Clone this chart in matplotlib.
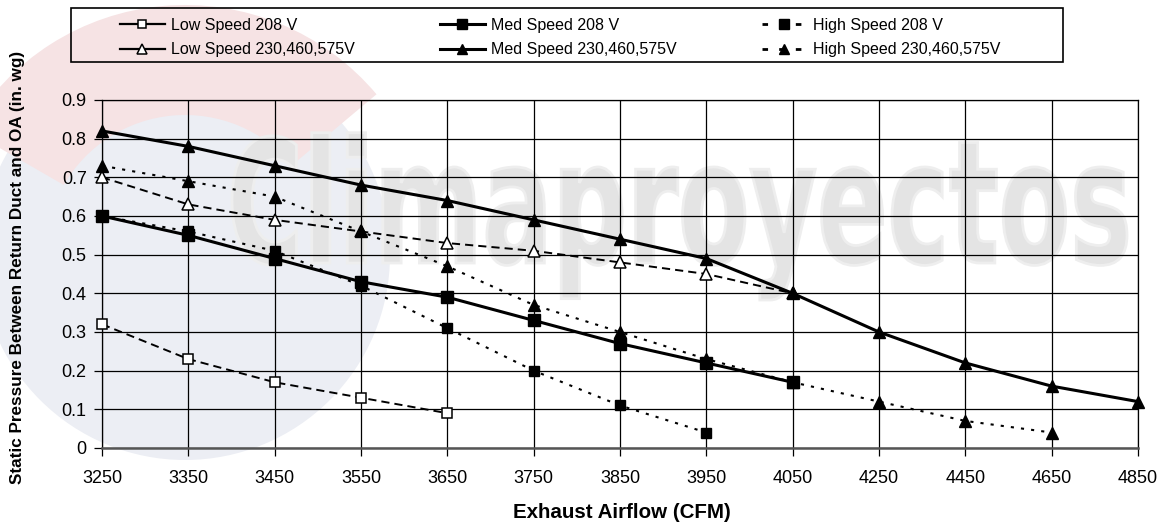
import matplotlib
matplotlib.use('Agg')
import matplotlib.pyplot as plt
from matplotlib.textpath import TextPath
from matplotlib.patches import PathPatch, Rectangle, Wedge, Circle
from matplotlib.font_manager import FontProperties
from matplotlib.lines import Line2D
import matplotlib.transforms as mtransforms

plt.rcParams['font.family'] = ['Liberation Sans', 'DejaVu Sans']

# data
airflow = ['3250', '3350', '3450', '3550', '3650', '3750', '3850',
           '3950', '4050', '4250', '4450', '4650', '4850']
low_208 = [0.32, 0.23, 0.17, 0.13, 0.09]
low_230 = [0.70, 0.63, 0.59, 0.56, 0.53, 0.51, 0.48, 0.45, 0.40]
med_208 = [0.60, 0.55, 0.49, 0.43, 0.39, 0.33, 0.27, 0.22, 0.17]
med_230 = [0.82, 0.78, 0.73, 0.68, 0.64, 0.59, 0.54, 0.49, 0.40,
           0.30, 0.22, 0.16, 0.12]
high_208 = [0.60, 0.56, 0.51, 0.42, 0.31, 0.20, 0.11, 0.04]
high_230 = [0.73, 0.69, 0.65, 0.56, 0.47, 0.37, 0.30, 0.23, 0.17,
            0.12, 0.07, 0.04]
yticks = [0, 0.1, 0.2, 0.3, 0.4, 0.5, 0.6, 0.7, 0.8, 0.9]

W, H = 1169, 529
fig = plt.figure(figsize=(W / 100, H / 100), dpi=100)

def fx(px):
    return px / W

def fy(py):
    return 1 - py / H

# faint logo watermark (pixel coords, drawn behind the axes)
px = mtransforms.IdentityTransform()
fig.patches.append(Circle((185, H - 255), 205, transform=px,
                          facecolor='#eceef4', edgecolor='none', zorder=-3))
fig.patches.append(Wedge((185, H - 255), 250, 40, 150, width=110,
                         transform=px, facecolor='#f6e3e4',
                         edgecolor='none', zorder=-2))

# "Climaproyectos" watermark text, condensed
fp = FontProperties(family='DejaVu Sans', weight='bold')
tp = TextPath((0, 0), 'Climaproyectos', size=100, prop=fp)
bb = tp.get_extents()
sx = 895 / bb.width
sy = 125 / 72.9
tr = (mtransforms.Affine2D().translate(-bb.x0, 0).scale(sx, sy)
      .translate(232, H - 263))
fig.patches.append(PathPatch(tp, transform=tr, facecolor='#e4e4e4',
                             edgecolor='#eeeeee', lw=2, zorder=-1))

ax = fig.add_axes([fx(102), fy(448), fx(1138) - fx(102), fy(100) - fy(448)])
ax.patch.set_visible(False)
ax.set_zorder(1)

x = list(range(len(airflow)))

low_style = dict(color='black', lw=1.4, dashes=(4.2, 2.6))
med_style = dict(color='black', lw=2.2, ls='-')
high_style = dict(color='black', lw=1.5, dashes=(1.5, 3.4))
open_sq = dict(marker='s', ms=7, mfc='white', mec='black', mew=1.1)
open_tri = dict(marker='^', ms=8, mfc='white', mec='black', mew=1.1)

ax.plot(x[:len(low_208)], low_208, **low_style, **open_sq,
        clip_on=False, zorder=4)
ax.plot(x[:len(low_230)], low_230, **low_style, **open_tri,
        clip_on=False, zorder=4)
ax.plot(x[:len(med_208)], med_208, **med_style, marker='s', ms=8.5,
        mfc='black', mec='black', clip_on=False, zorder=4)
ax.plot(x[:len(med_230)], med_230, **med_style, marker='^', ms=8.5,
        mfc='black', mec='black', clip_on=False, zorder=4)
ax.plot(x[:len(high_208)], high_208, **high_style, marker='s', ms=7,
        mfc='black', mec='black', clip_on=False, zorder=4)
ax.plot(x[:len(high_230)], high_230, **high_style, marker='^', ms=8,
        mfc='black', mec='black', clip_on=False, zorder=4)

ax.set_xlim(0, len(airflow) - 1)
ax.set_ylim(0, 0.9)
ax.set_xticks(x)
ax.set_xticklabels(airflow)
ax.set_yticks(yticks)
ax.set_yticklabels(['0' if v == 0 else f'{v:.1f}' for v in yticks])
ax.grid(True, color='black', lw=0.9)
ax.set_axisbelow(True)
ax.tick_params(axis='both', direction='out', length=6, width=0.9,
               labelsize=13, color='black')
ax.tick_params(axis='x', pad=10)
ax.tick_params(axis='y', pad=5)
for side in ['left', 'right', 'top']:
    ax.spines[side].set_linewidth(0.9)
ax.spines['bottom'].set_linewidth(1.8)
ax.spines['bottom'].set_color('#555555')

fig.text(fx(18), fy(267), 'Static Pressure Between Return Duct and OA (in. wg)',
         rotation=90, ha='center', va='center', fontsize=12.3,
         fontweight='bold')
fig.text(fx(622), fy(512), 'Exhaust Airflow (CFM)', ha='center', va='center',
         fontsize=14.8, fontweight='bold')

# legend: proxies drawn the way the reference legend shows them
fig.patches.append(Rectangle((fx(71), fy(62)), fx(1063) - fx(71),
                             fy(8) - fy(62), transform=fig.transFigure,
                             facecolor='none', edgecolor='black', lw=1.2,
                             zorder=5))
labels = ['Low Speed 208 V', 'Low Speed 230,460,575V',
          'Med Speed 208 V', 'Med Speed 230,460,575V',
          'High Speed 208 V', 'High Speed 230,460,575V']
handles = [
    Line2D([], [], color='black', lw=1.6, **open_sq),
    Line2D([], [], color='black', lw=1.6, **open_tri),
    Line2D([], [], **med_style, marker='s', ms=8.5, mfc='black', mec='black'),
    Line2D([], [], **med_style, marker='^', ms=8.5, mfc='black', mec='black'),
    Line2D([], [], color='black', lw=2, dashes=(2, 4), marker='s', ms=8,
           mfc='black', mec='black'),
    Line2D([], [], color='black', lw=2, dashes=(2, 4), marker='^', ms=8.5,
           mfc='black', mec='black'),
]
fig.legend(handles, labels, ncol=3, loc='center', mode='expand',
           bbox_to_anchor=(fx(112), fy(66), fx(1008) - fx(112), fy(9) - fy(66)),
           frameon=False, borderpad=0, fontsize=11.5, handlelength=2.8,
           handletextpad=0.4, labelspacing=0.6, markerscale=0.85)

fig.savefig('out.png', dpi=100)
